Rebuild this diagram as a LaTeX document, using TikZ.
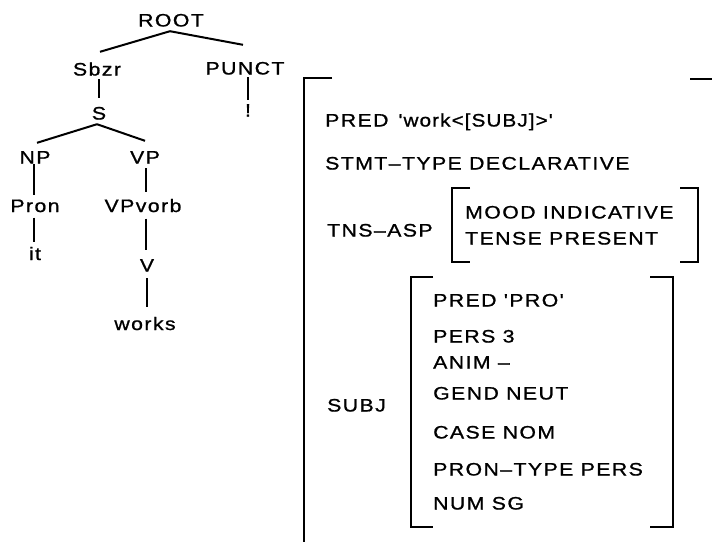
\documentclass[tikz,border=0pt]{standalone}
\usepackage{fontspec}
\newfontfamily\lfg{Liberation Sans}[FakeStretch=1.18,LetterSpace=8,FakeBold=1]
\newfontfamily\lfgt{Liberation Sans}[FakeStretch=1.15,LetterSpace=6,FakeBold=1]
\usetikzlibrary{calc}
\begin{document}
\begin{tikzpicture}[x=1pt,y=-1pt,
  lbl/.style={font=\lfg\fontsize{18}{18}\selectfont, inner sep=0pt, text height=13pt, text depth=0pt},
  tn/.style={lbl},
  fs/.style={lbl, anchor=west},
  edge/.style={line width=2pt},
  brk/.style={line width=2pt}]
\useasboundingbox[fill=white] (0,0) rectangle (712,542);
% c-structure tree
\node[tn] (root)   at (171,20)  {ROOT};
\node[tn] (sbzr)   at (97,69)   {Sbzr};
\node[tn] (punct)  at (245,68)  {PUNCT};
\node[tn] (excl)   at (248,110) {!};
\node[tn] (s)      at (99,113)  {S};
\node[tn] (np)     at (35,157)  {NP};
\node[tn] (vp)     at (145,157) {VP};
\node[tn] (pron)   at (35,205.5)  {Pron};
\node[tn] (vpvorb) at (143,205.5) {VPvorb};
\node[tn] (it)     at (35,253.5)  {it};
\node[tn] (v)      at (147,265) {V};
\node[tn] (works)  at (145,323.5) {works};
\draw[edge] ($(root.south)+(-1,4.5)$) -- ($(sbzr.north)+(3,-10.5)$);
\draw[edge] ($(root.south)+(-1,4.5)$) -- ($(punct.north)+(-2,-16.5)$);
\draw[edge] ($(sbzr.south)+(2,3.5)$) -- ($(s.north)+(0,-8.5)$);
\draw[edge] ($(punct.south)+(3,2.5)$) -- ($(excl.north)+(0,-3.5)$);
\draw[edge] ($(s.south)+(-2,4.5)$) -- ($(np.north)+(2,-7.5)$);
\draw[edge] ($(s.south)+(-2,4.5)$) -- ($(vp.north)+(0,-9.5)$);
\draw[edge] ($(np.south)+(-1,0.5)$) -- ($(pron.north)+(-1,-3.5)$);
\draw[edge] ($(vp.south)+(1,4.5)$) -- ($(vpvorb.north)+(3,-6.5)$);
\draw[edge] ($(pron.south)+(-1,5.5)$) -- ($(it.north)+(-1,-4.5)$);
\draw[edge] ($(vpvorb.south)+(3,6.5)$) -- ($(v.north)+(-1,-8.5)$);
\draw[edge] ($(v.south)+(0,6.5)$) -- ($(works.north)+(2,-10)$);
% f-structure
\node[fs] (pred)  at (325,120) {PRED\hspace{10pt}{\lfgt 'work<[SUBJ]>'}};
\node[fs] (stmt)  at (325,163) {STMT–TYPE DECLARATIVE};
\node[fs] (tns)   at (327,230) {TNS–ASP};
\node[fs] (mood)  at (465,212) {MOOD INDICATIVE};
\node[fs] (tense) at (465,238) {TENSE PRESENT};
\node[fs] (subj)  at (327,405) {SUBJ};
\node[fs] (spred) at (433,300) {PRED 'PRO'};
\node[fs] (spers) at (433,336) {PERS 3};
\node[fs] (sanim) at (433,362) {ANIM –};
\node[fs] (sgend) at (433,393) {GEND NEUT};
\node[fs] (scase) at (433,432) {CASE NOM};
\node[fs] (sptyp) at (433,469) {PRON–TYPE PERS};
\node[fs] (snum)  at (433,503) {NUM SG};
% brackets
\draw[brk] (332,78) -- (304,78) -- (304,542);
\draw[brk] (690,79) -- (712,79);
\draw[brk] (470,188) -- (452,188) -- (452,262) -- (470,262);
\draw[brk] (680,188) -- (698,188) -- (698,262) -- (680,262);
\draw[brk] (433,277) -- (411,277) -- (411,527) -- (433,527);
\draw[brk] (650,277) -- (673,277) -- (673,527) -- (650,527);
\end{tikzpicture}
\end{document}
